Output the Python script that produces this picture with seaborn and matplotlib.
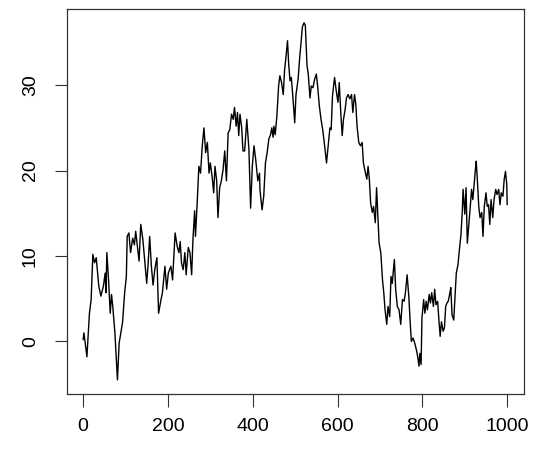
import matplotlib
matplotlib.use("Agg")
import matplotlib.pyplot as plt
import seaborn as sns

steps = [0, 2, 9, 15, 19, 23, 27, 31, 37, 42, 48, 52, 54, 56, 60, 64, 67, 70, 75, 81,
         85, 89, 93, 98, 102, 104, 108, 112, 117, 121, 124, 128, 132, 136, 141, 145, 150, 153, 157, 161,
         165, 169, 174, 178, 183, 187, 193, 197, 201, 207, 211, 217, 222, 226, 229, 232, 236, 240, 243, 248,
         252, 256, 259, 263, 265, 269, 273, 277, 281, 285, 289, 293, 297, 300, 304, 308, 311, 315, 318, 322,
         326, 330, 334, 338, 342, 346, 350, 354, 357, 361, 364, 367, 370, 374, 377, 381, 386, 391, 395, 399,
         403, 407, 412, 416, 417, 422, 426, 430, 434, 438, 442, 445, 448, 450, 453, 457, 461, 464, 468, 472,
         475, 479, 482, 485, 488, 491, 495, 499, 502, 507, 511, 514, 517, 521, 524, 528, 531, 535, 538, 542,
         546, 550, 553, 557, 561, 565, 570, 574, 578, 582, 585, 588, 591, 593, 597, 601, 604, 608, 611, 614,
         618, 621, 625, 629, 633, 636, 640, 643, 646, 650, 654, 658, 661, 665, 669, 672, 675, 678, 682, 685,
         689, 692, 695, 698, 702, 706, 709, 712, 716, 719, 723, 726, 729, 734, 737, 741, 745, 749, 753, 757,
         760, 764, 768, 771, 774, 778, 782, 786, 789, 792, 794, 797, 799, 803, 806, 809, 812, 816, 819, 822,
         826, 829, 832, 836, 839, 842, 845, 849, 852, 855, 858, 861, 865, 867, 870, 874, 877, 880, 884, 888,
         891, 894, 896, 900, 903, 906, 910, 913, 916, 919, 922, 925, 927, 930, 933, 936, 940, 943, 946, 950,
         953, 956, 959, 962, 966, 969, 973, 976, 980, 983, 986, 990, 993, 996, 999, 1000]
walk = [0.2, 1.0, -1.8, 3.3, 4.9, 10.2, 9.2, 9.8, 6.5, 5.3, 6.5, 8.0, 5.7, 10.4, 7.2, 3.3, 5.5, 4.1, 1.0, -4.5,
        -0.2, 1.0, 2.2, 5.7, 7.6, 12.3, 12.7, 10.4, 12.1, 11.3, 12.9, 11.1, 9.4, 13.7, 11.9, 9.6, 6.8, 8.8, 12.3, 8.8,
        6.6, 8.4, 9.8, 3.3, 4.7, 5.7, 8.8, 6.1, 8.0, 8.8, 7.2, 12.7, 11.1, 10.4, 11.7, 9.2, 8.4, 10.4, 7.8, 11.0,
        10.4, 7.8, 11.9, 15.3, 12.3, 16.2, 20.5, 19.7, 22.9, 25.0, 22.1, 23.3, 19.7, 20.9, 19.4, 17.4, 20.5, 18.8, 14.5, 18.0,
        18.8, 20.1, 22.3, 18.8, 24.4, 24.8, 26.6, 26.0, 27.4, 25.2, 26.8, 24.1, 26.6, 25.0, 22.3, 22.3, 26.0, 22.5, 15.6, 20.5,
        22.9, 21.3, 18.8, 19.7, 17.8, 15.4, 17.0, 20.9, 22.1, 23.7, 24.2, 25.0, 23.9, 25.2, 24.2, 26.4, 29.9, 31.1, 30.3, 28.9,
        31.7, 33.6, 35.2, 32.3, 30.5, 30.9, 28.4, 25.6, 28.9, 30.7, 33.4, 35.0, 36.8, 37.3, 37.0, 32.3, 31.3, 28.5, 29.9, 29.7,
        30.7, 31.3, 29.9, 27.6, 26.0, 24.8, 22.7, 20.9, 22.9, 25.0, 24.8, 28.7, 30.1, 30.9, 29.3, 28.0, 30.3, 26.4, 24.1, 26.0,
        27.2, 28.5, 28.9, 28.4, 28.9, 26.8, 28.9, 27.8, 25.2, 23.3, 22.9, 23.3, 20.9, 19.9, 19.0, 20.5, 19.0, 16.2, 15.1, 15.8,
        13.9, 18.0, 14.7, 11.5, 10.4, 7.2, 5.7, 3.7, 2.0, 4.1, 2.9, 7.6, 6.8, 9.6, 6.1, 4.1, 3.7, 2.0, 4.9, 4.7,
        5.7, 7.8, 5.3, 2.5, 0.0, 0.4, -0.2, -1.0, -1.8, -2.9, -1.4, -2.7, 2.7, 4.9, 3.3, 4.7, 3.7, 5.5, 4.5, 5.7,
        4.1, 6.1, 4.3, 4.7, 2.5, 0.6, 2.3, 1.2, 1.6, 4.1, 4.5, 4.7, 5.7, 6.3, 3.1, 2.5, 5.3, 8.0, 9.0, 11.1,
        12.5, 15.1, 17.8, 14.9, 18.0, 11.5, 13.9, 15.8, 17.8, 16.6, 18.4, 20.1, 21.1, 18.6, 15.8, 14.5, 15.1, 12.3, 15.8, 17.4,
        15.8, 16.0, 13.7, 16.6, 14.5, 16.6, 17.8, 17.2, 17.8, 16.0, 17.4, 17.0, 19.0, 19.9, 18.4, 16.0]

x_ticks = [0, 200, 400, 600, 800, 1000]
y_ticks = [0, 10, 20, 30]

# --- Layout ---
sns.set_style("ticks")
plt.rcParams['font.family'] = ['Liberation Sans', 'DejaVu Sans']

fig = plt.figure(figsize=(5.5, 4.57), dpi=100)
ax = fig.add_axes([0.121, 0.137, 0.832, 0.843])

sns.lineplot(x=steps, y=walk, color="black", linewidth=1.0, ax=ax)

ax.set_xlim(-39, 1040)
ax.set_ylim(-6.2, 38.9)
ax.set_xticks(x_ticks)
ax.set_yticks(y_ticks)
ax.set_xticklabels([str(t) for t in x_ticks], fontsize=14)
ax.set_yticklabels([str(t) for t in y_ticks], fontsize=14, rotation=90, va="center")
ax.tick_params(axis="both", direction="out", length=9, width=0.8,
               color="#333333", labelcolor="black")
ax.tick_params(axis="x", pad=8)
ax.tick_params(axis="y", pad=11)
for side in ax.spines.values():
    side.set_visible(True)
    side.set_color("#333333")
    side.set_linewidth(0.9)
ax.set_xlabel("")
ax.set_ylabel("")

plt.savefig("out.png", dpi=100)
